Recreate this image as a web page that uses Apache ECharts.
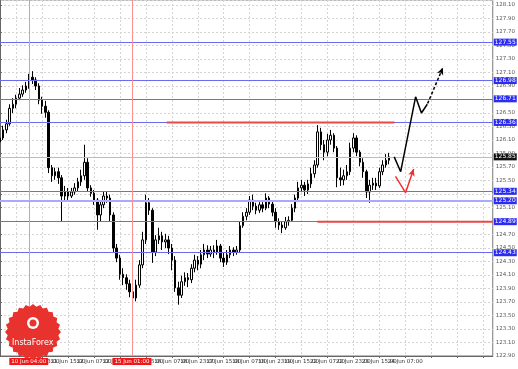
<!DOCTYPE html>
<html><head><meta charset="utf-8">
<script src="https://cdn.jsdelivr.net/npm/echarts@6/dist/echarts.min.js"></script>
<style>html,body{margin:0;padding:0;background:#fff}#c{width:518px;height:369px}</style>
</head><body><div id="c"></div>
<script>
// time labels (every 16 hours, shown every 8 two-hour bars)
const timeLabels = ['10 Jun 2015','10 Jun 23:00','11 Jun 15:00','12 Jun 07:00','12 Jun 23:00','15 Jun 15:00','16 Jun 07:00','16 Jun 23:00','17 Jun 15:00','18 Jun 07:00','18 Jun 23:00','19 Jun 15:00','22 Jun 07:00','22 Jun 23:00','23 Jun 15:00','24 Jun 07:00'];
const totalSlots = 153;      // bars + empty future space
const firstLabelSlot = 5;
const labelStep = 8;
// candles: [open, close, low, high]
const candles = [
[126.07,126.13,126.01,126.19],[126.13,126.25,126.10,126.31],[126.25,126.34,126.20,126.40],[126.34,126.57,126.31,126.63],
[126.57,126.63,126.50,126.72],[126.63,126.72,126.57,126.77],[126.72,126.78,126.69,126.87],[126.78,126.84,126.74,126.91],
[126.84,126.90,126.80,126.96],[126.90,127.03,126.86,127.08],[127.03,126.99,126.93,127.12],[126.99,126.90,126.84,127.03],
[126.90,126.69,126.63,126.94],[126.69,126.60,126.49,126.74],[126.60,126.51,126.43,126.68],[126.51,125.69,125.61,126.54],
[125.69,125.57,125.48,125.73],[125.57,125.63,125.51,125.69],[125.63,125.54,125.45,125.69],[125.54,125.27,124.89,125.58],
[125.27,125.33,125.21,125.42],[125.33,125.27,125.21,125.39],[125.27,125.33,125.24,125.39],[125.33,125.39,125.29,125.46],
[125.39,125.48,125.33,125.54],[125.48,125.57,125.42,125.66],[125.57,125.77,125.51,126.03],[125.77,125.39,125.33,125.83],
[125.39,125.31,125.26,125.43],[125.31,125.21,125.14,125.36],[125.21,124.99,124.77,125.24],[124.99,125.14,124.89,125.21],
[125.14,125.27,125.09,125.33],[125.27,125.24,125.17,125.33],[125.24,124.99,124.89,125.29],[124.99,124.50,124.44,125.03],
[124.50,124.35,124.29,124.56],[124.35,124.11,124.03,124.40],[124.11,124.06,123.95,124.20],[124.06,123.97,123.88,124.11],
[123.97,123.85,123.77,124.03],[123.85,123.76,123.69,123.95],[123.76,123.95,123.71,124.03],[123.95,124.25,123.91,124.32],
[124.25,124.62,124.20,124.74],[124.62,125.17,124.56,125.29],[125.17,125.06,124.99,125.24],[125.06,124.44,124.28,125.09],
[124.44,124.62,124.38,124.69],[124.62,124.68,124.56,124.80],[124.68,124.59,124.47,124.74],[124.59,124.62,124.50,124.71],
[124.62,124.50,124.41,124.68],[124.50,124.32,124.17,124.56],[124.32,123.91,123.85,124.38],[123.91,123.80,123.66,124.00],
[123.80,124.00,123.76,124.09],[124.00,124.06,123.94,124.14],[124.06,124.03,123.92,124.13],[124.03,124.20,123.98,124.26],
[124.20,124.32,124.14,124.40],[124.32,124.26,124.17,124.38],[124.26,124.40,124.20,124.47],[124.40,124.47,124.32,124.56],
[124.47,124.41,124.35,124.54],[124.41,124.47,124.37,124.53],[124.47,124.44,124.35,124.54],[124.44,124.53,124.40,124.62],
[124.53,124.35,124.29,124.56],[124.35,124.29,124.22,124.44],[124.29,124.40,124.25,124.47],[124.40,124.47,124.35,124.53],
[124.47,124.44,124.38,124.51],[124.44,124.47,124.40,124.53],[124.47,124.83,124.44,124.89],[124.83,124.97,124.80,125.03],
[124.97,125.03,124.91,125.09],[125.03,125.21,124.99,125.27],[125.21,125.12,125.06,125.29],[125.12,125.06,125.00,125.17],
[125.06,125.14,125.02,125.18],[125.14,125.09,125.03,125.18],[125.09,125.24,125.06,125.31],[125.24,125.15,125.09,125.27],
[125.15,125.03,124.97,125.21],[125.03,124.89,124.80,125.09],[124.89,124.84,124.77,124.94],[124.84,124.80,124.72,124.89],
[124.80,124.89,124.77,124.96],[124.89,124.91,124.83,124.97],[124.91,125.09,124.89,125.15],[125.09,125.24,125.03,125.29],
[125.24,125.39,125.18,125.48],[125.39,125.43,125.33,125.51],[125.43,125.36,125.27,125.48],[125.36,125.45,125.30,125.51],
[125.45,125.60,125.39,125.69],[125.60,125.73,125.54,125.80],[125.73,126.22,125.69,126.32],[126.22,126.03,125.95,126.28],
[126.03,125.92,125.80,126.10],[125.92,126.10,125.86,126.19],[126.10,126.17,126.03,126.25],[126.17,125.98,125.92,126.20],
[125.98,125.54,125.40,126.01],[125.54,125.51,125.42,125.69],[125.51,125.57,125.43,125.66],[125.57,125.63,125.51,125.73],
[125.63,125.98,125.58,126.06],[125.98,126.13,125.92,126.20],[126.13,125.92,125.86,126.17],[125.92,125.77,125.71,125.95],
[125.77,125.63,125.54,125.83],[125.63,125.33,125.24,125.66],[125.33,125.43,125.17,125.51],[125.43,125.46,125.36,125.54],
[125.46,125.42,125.36,125.54],[125.42,125.63,125.39,125.69],[125.63,125.73,125.58,125.80],[125.73,125.80,125.69,125.89],
[125.80,125.85,125.74,125.91]
];
// price axis
const priceMin = 122.90, priceMax = 128.174, priceStep = 0.20;
// horizontal support / resistance levels (blue)
const levels = [127.55, 126.98, 126.71, 126.36, 125.34, 125.20, 124.89, 124.43];
const currentPrice = 125.85;
// red horizontal segments: [startSlot, endSlot, price]
const redSegments = [[51.4, 121.7, 126.36], [97.9, 152, 124.89]];
// vertical red event lines (slot position) and their labels
const eventSlots = [8.87, 40.7];
const eventLabels = ['10 Jun 04:00', '15 Jun 01:00'];
// forecast arrows: [slot, price]
const blackPath = [[121.6,125.85],[123.6,125.63],[128.2,126.74],[130.0,126.50],[131.8,126.63]];
const blackDashed = [[131.9,126.64],[136.6,127.17]];
const redPath = [[122.0,125.56],[125.1,125.32]];
const redArrowEnd = [[125.1,125.32],[127.6,125.67]];

const categories = [];
for (let i = 0; i < totalSlots; i++) {
  const k = (i - firstLabelSlot) / labelStep;
  categories.push(i >= firstLabelSlot && Number.isInteger(k) && k < timeLabels.length ? timeLabels[k] : '');
}
const isLabelSlot = (i) => i >= firstLabelSlot && (i - firstLabelSlot) % labelStep === 0;

const chart = echarts.init(document.getElementById('c'), null, {renderer: 'canvas'});
const FONT = 'DejaVu Sans';
const levelStyle = (v, i) => ({
  yAxis: v,
  lineStyle: {color: i === 5 ? '#a9a9ff' : '#6a6af2', width: i === 5 ? 2 : 1.2, type: 'solid'},
  label: {show: true, position: 'end', distance: 1, formatter: v.toFixed(2), color: '#fff',
    backgroundColor: '#2b2bf2', padding: [1, 1, 0, 1], fontSize: 6, fontFamily: FONT}
});

// logo star polygon (decoration)
const star = [];
for (let k = 0; k < 48; k++) {
  const a = k / 48 * Math.PI * 2;
  const r = k % 2 ? 25.5 : 28;
  star.push([33 + r * Math.cos(a), 332 + r * Math.sin(a)]);
}

chart.setOption({
  animation: false,
  backgroundColor: '#ffffff',
  grid: {left: 0, right: 21, top: 0, bottom: 13, containLabel: false, show: true, borderColor: '#777', borderWidth: 1},
  xAxis: [{
    type: 'category', data: categories, boundaryGap: false,
    axisLine: {show: true, lineStyle: {color: '#666', width: 1}},
    axisTick: {show: true, interval: isLabelSlot, length: 2, lineStyle: {color: '#666'}},
    axisLabel: {interval: isLabelSlot, fontSize: 5.5, color: '#333', margin: 3, fontFamily: FONT},
    splitLine: {show: true, interval: isLabelSlot, lineStyle: {color: '#d4d4d4', type: [2, 2], width: 1}}
  }, {
    type: 'value', min: 0, max: totalSlots - 1, show: false
  }],
  yAxis: {
    type: 'value', position: 'right', min: priceMin, max: priceMax, interval: priceStep, scale: true,
    axisLine: {show: true, lineStyle: {color: '#666'}},
    axisTick: {show: true, length: 2, lineStyle: {color: '#666'}},
    axisLabel: {fontSize: 5.5, color: '#555', margin: 3, showMaxLabel: false, fontFamily: FONT,
      formatter: (v) => v.toFixed(2)},
    splitLine: {show: true, lineStyle: {color: '#d4d4d4', type: [2, 2], width: 1}}
  },
  graphic: [
    {type: 'polygon', shape: {points: star}, style: {fill: '#e8322d'}, z: 100},
    {type: 'circle', shape: {cx: 33, cy: 323, r: 6}, style: {fill: '#fff'}, z: 101},
    {type: 'circle', shape: {cx: 33, cy: 323, r: 3.5}, style: {fill: '#e8322d'}, z: 102},
    {type: 'text', left: 12, top: 339, style: {text: 'InstaForex', fill: '#fff', fontSize: 8, fontFamily: FONT}, z: 103}
  ],
  series: [
    {
      type: 'candlestick', data: candles, barWidth: 2,
      itemStyle: {color: '#ffffff', color0: '#000000', borderColor: '#000000', borderColor0: '#000000', borderWidth: 1},
      markLine: {
        silent: true, symbol: ['none', 'none'],
        data: levels.map(levelStyle).concat([{
          yAxis: currentPrice, lineStyle: {color: '#bdbdbd', width: 1, type: 'solid'},
          label: {show: true, position: 'end', distance: 1, formatter: currentPrice.toFixed(2), color: '#fff',
            backgroundColor: '#111', padding: [1, 1, 0, 1], fontSize: 6, fontFamily: FONT}
        }])
      },
      z: 2
    },
    {
      type: 'line', xAxisIndex: 1, data: [], 
      markLine: {
        silent: true, symbol: ['none', 'none'],
        data: eventSlots.map((s, i) => ({
          xAxis: s, lineStyle: {color: '#ff8f8f', width: 1, type: 'solid'},
          label: {show: true, position: 'start', distance: 2, formatter: eventLabels[i], color: '#fff',
            backgroundColor: '#f01818', padding: [1, 2, 0, 2], fontSize: 5.5, fontFamily: FONT}
        }))
      },
      z: 1
    },
    ...redSegments.map(s => ({
      type: 'line', xAxisIndex: 1, data: [[s[0], s[2]], [s[1], s[2]]], symbol: 'none',
      lineStyle: {color: '#e84848', width: 2}, z: 10
    })),
    {
      type: 'line', xAxisIndex: 1, data: blackPath, symbol: 'none',
      lineStyle: {color: '#000', width: 1.5}, z: 11,
      markLine: {silent: true, symbol: ['none', 'arrow'], symbolSize: [5, 7],
        lineStyle: {color: '#000', width: 1.5, type: [3, 2]}, label: {show: false},
        data: [[{coord: blackDashed[0]}, {coord: blackDashed[1]}]]}
    },
    {
      type: 'line', xAxisIndex: 1, data: redPath, symbol: 'none',
      lineStyle: {color: '#f03030', width: 1.5}, z: 11,
      markLine: {silent: true, symbol: ['none', 'arrow'], symbolSize: [5, 7],
        lineStyle: {color: '#f03030', width: 1.5, type: 'solid'}, label: {show: false},
        data: [[{coord: redArrowEnd[0]}, {coord: redArrowEnd[1]}]]}
    }
  ]
});
</script></body></html>
